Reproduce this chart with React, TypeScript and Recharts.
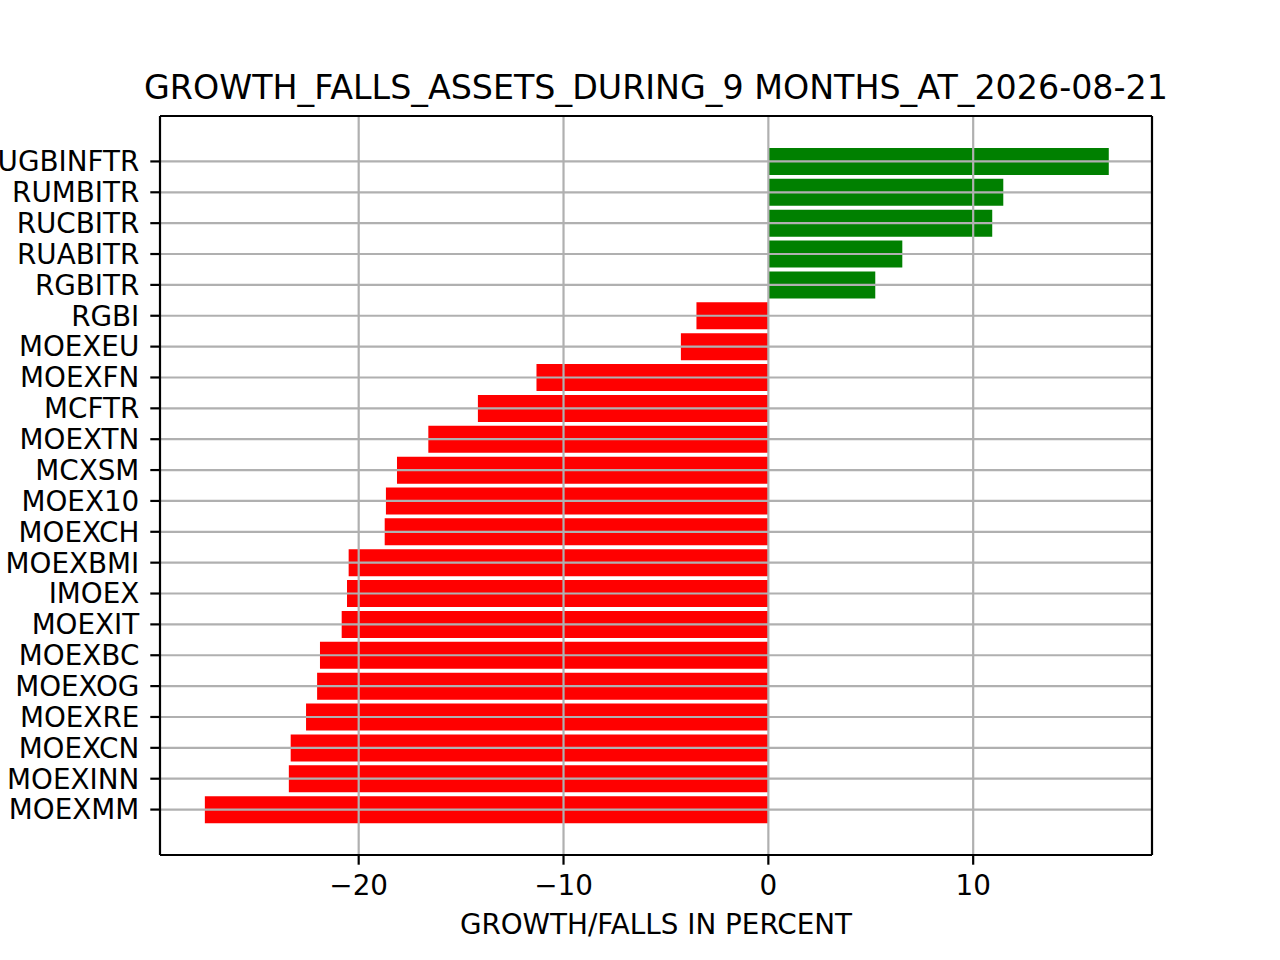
import React from "react";
import {
  BarChart,
  Bar,
  XAxis,
  YAxis,
  Cell,
  ReferenceLine,
} from "recharts";

const categories = [
  "UGBINFTR",
  "RUMBITR",
  "RUCBITR",
  "RUABITR",
  "RGBITR",
  "RGBI",
  "MOEXEU",
  "MOEXFN",
  "MCFTR",
  "MOEXTN",
  "MCXSM",
  "MOEX10",
  "MOEXCH",
  "MOEXBMI",
  "IMOEX",
  "MOEXIT",
  "MOEXBC",
  "MOEXOG",
  "MOEXRE",
  "MOEXCN",
  "MOEXINN",
  "MOEXMM",
];

const values = [
  16.62, 11.47, 10.93, 6.54, 5.22, -3.51, -4.27, -11.32, -14.18, -16.6,
  -18.13, -18.67, -18.73, -20.49, -20.57, -20.83, -21.89, -22.03, -22.57,
  -23.32, -23.41, -27.51,
];

const xTicks = [-20, -10, 0, 10];
const xDomain = [-29.7, 18.73];

const TITLE = "GROWTH_FALLS_ASSETS_DURING_9 MONTHS_AT_2026-08-21";
const XLABEL = "GROWTH/FALLS IN PERCENT";

const data = categories.map((name, i) => ({ name, value: values[i] }));

const FONT = "'DejaVu Sans', sans-serif";
const GRID = "#b0b0b0";
const LW = 2.2;
const frameLine = { stroke: "#000", strokeWidth: LW };

const fmt = (v: number) => (v < 0 ? "\u2212" + Math.abs(v) : String(v));

export default function App() {
  return (
    <div
      style={{
        position: "absolute",
        left: 0,
        top: 0,
        width: 1280,
        height: 960,
        background: "#fff",
      }}
    >
      <BarChart
        width={1280}
        height={960}
        layout="vertical"
        data={data}
        margin={{ top: 115, right: 127, bottom: 75, left: 0 }}
      >
        <XAxis
          type="number"
          dataKey="value"
          domain={xDomain}
          ticks={xTicks}
          allowDataOverflow
          height={30}
          axisLine={frameLine}
          tickSize={9.7}
          tickMargin={11}
          tickLine={{ stroke: "#000", strokeWidth: LW }}
          tick={{ fontSize: 27.8, fill: "#000", fontFamily: FONT }}
          tickFormatter={fmt}
        />
        <XAxis
          xAxisId="top"
          orientation="top"
          type="number"
          domain={xDomain}
          allowDataOverflow
          height={1}
          axisLine={frameLine}
          tick={false}
          tickLine={false}
        />
        <YAxis
          type="category"
          dataKey="name"
          width={160}
          interval={0}
          padding={{ top: 30, bottom: 30 }}
          axisLine={frameLine}
          tickSize={9.7}
          tickMargin={11}
          tickLine={{ stroke: "#000", strokeWidth: LW }}
          tick={{ fontSize: 27.8, fill: "#000", fontFamily: FONT }}
        />
        <YAxis
          yAxisId="right"
          orientation="right"
          type="category"
          dataKey="name"
          width={1}
          axisLine={frameLine}
          tick={false}
          tickLine={false}
        />
        <Bar dataKey="value" barSize={27} isAnimationActive={false}>
          {data.map((d, i) => (
            <Cell key={i} fill={d.value >= 0 ? "#008000" : "#ff0000"} />
          ))}
        </Bar>
        {categories.map((c) => (
          <ReferenceLine
            key={"h" + c}
            y={c}
            stroke={GRID}
            strokeWidth={LW}
            isFront
          />
        ))}
        {xTicks.map((t) => (
          <ReferenceLine
            key={"v" + t}
            x={t}
            stroke={GRID}
            strokeWidth={LW}
            isFront
          />
        ))}
      </BarChart>
      <svg
        width={1280}
        height={960}
        style={{ position: "absolute", left: 0, top: 0, pointerEvents: "none" }}
      >
        <text
          x={656}
          y={99}
          textAnchor="middle"
          fontSize={33.3}
          fontFamily={FONT}
          fill="#000"
        >
          {TITLE}
        </text>
        <text
          x={656}
          y={934}
          textAnchor="middle"
          fontSize={27.8}
          fontFamily={FONT}
          fill="#000"
        >
          {XLABEL}
        </text>
      </svg>
    </div>
  );
}
